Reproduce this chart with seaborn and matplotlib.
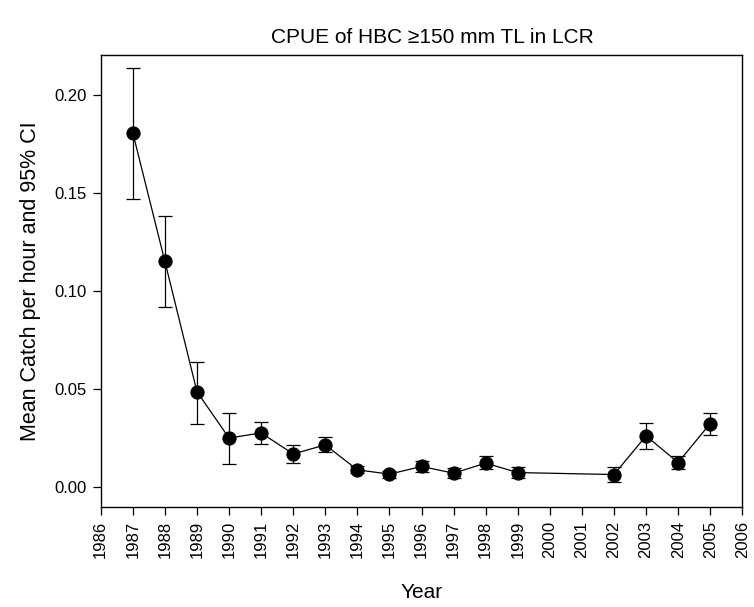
import matplotlib
matplotlib.use("Agg")
import matplotlib.pyplot as plt
import numpy as np
import pandas as pd
import seaborn as sns

# Annual CPUE of humpback chub (>=150 mm TL) in the Little Colorado River
years = [1987, 1988, 1989, 1990, 1991, 1992, 1993, 1994, 1995, 1996,
         1997, 1998, 1999, 2002, 2003, 2004, 2005]
cpue = [0.1805, 0.1150, 0.0486, 0.0250, 0.0276, 0.0169, 0.0215, 0.0088,
        0.0066, 0.0105, 0.0071, 0.0122, 0.0074, 0.0064, 0.0261, 0.0125, 0.0324]
ci_upper = [0.2136, 0.1380, 0.0639, 0.0378, 0.0330, 0.0217, 0.0257, 0.0107,
            0.0084, 0.0135, 0.0095, 0.0156, 0.0100, 0.0100, 0.0326, 0.0156, 0.0380]
ci_lower = [0.1470, 0.0919, 0.0322, 0.0120, 0.0220, 0.0122, 0.0178, 0.0070,
            0.0048, 0.0076, 0.0047, 0.0092, 0.0048, 0.0025, 0.0195, 0.0092, 0.0265]
x_ticks = list(range(1986, 2007))
y_ticks = [0.00, 0.05, 0.10, 0.15, 0.20]

df = pd.DataFrame({"Year": years, "CPUE": cpue, "lo": ci_lower, "hi": ci_upper})

sns.set_style("ticks")
plt.rcParams["font.family"] = ["Liberation Sans", "DejaVu Sans"]
plt.rcParams["text.color"] = "black"
plt.rcParams["axes.labelcolor"] = "black"

fig = plt.figure(figsize=(7.54, 6.07), dpi=100)
ax = fig.add_axes([0.1336, 0.1652, 0.8509, 0.7437])

# 95% confidence intervals
yerr = np.vstack([df["CPUE"] - df["lo"], df["hi"] - df["CPUE"]])
ax.errorbar(df["Year"], df["CPUE"], yerr=yerr, fmt="none", ecolor="black",
            elinewidth=0.9, capsize=5.2, capthick=0.9, zorder=2)

sns.lineplot(data=df, x="Year", y="CPUE", ax=ax, color="black", linewidth=0.9,
             marker="o", markersize=9.5, markeredgecolor="black",
             markerfacecolor="black", zorder=3)

ax.set_xlim(1986, 2006)
ax.set_ylim(-0.01, 0.22)
ax.set_xticks(x_ticks)
ax.set_xticklabels([str(y) for y in x_ticks], rotation=90)
ax.set_yticks(y_ticks)
ax.set_yticklabels([f"{v:.2f}" for v in y_ticks])
ax.tick_params(axis="both", direction="out", length=6, width=0.9,
               labelsize=12, colors="black", pad=4)

for s in ax.spines.values():
    s.set_visible(True)
    s.set_linewidth(1.0)
    s.set_color("black")

ax.set_xlabel("Year", fontsize=15, labelpad=18, color="black")
ax.set_ylabel("Mean Catch per hour and 95% CI", fontsize=15.5, labelpad=10,
              color="black")
ax.set_title("CPUE of HBC \u2265150 mm TL in LCR", fontsize=15, pad=9,
             x=0.517, color="black")

fig.savefig("out.png", dpi=100, facecolor="white")
